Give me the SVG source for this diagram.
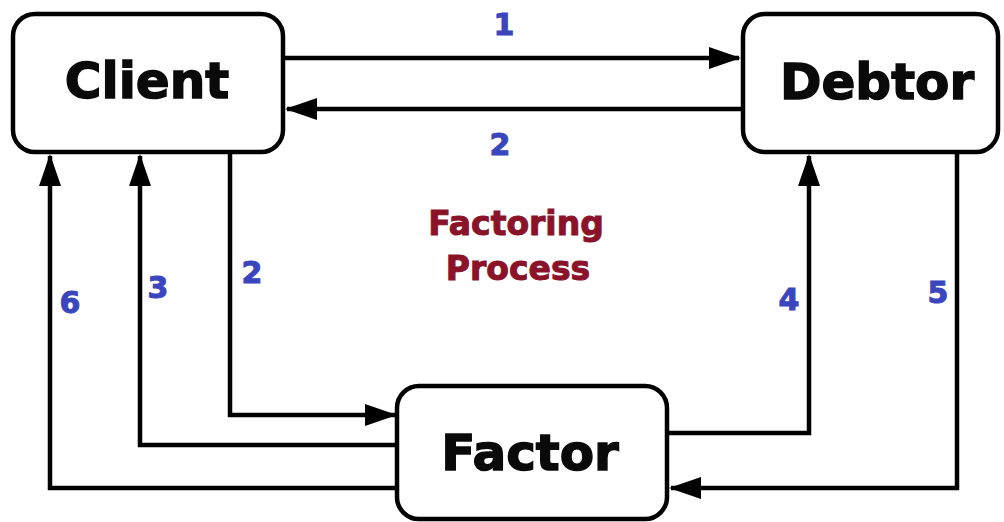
<svg xmlns="http://www.w3.org/2000/svg" width="1004" height="522" viewBox="0 0 1004 522">
<style>
.box{fill:#fff;stroke:#000;stroke-width:4.5}
.name{font-family:"DejaVu Sans","Liberation Sans",sans-serif;font-weight:bold;font-size:50px;fill:#0a0a0a;stroke:#0a0a0a;stroke-width:1.5;text-anchor:middle}
.num{font-family:"DejaVu Sans","Liberation Sans",sans-serif;font-weight:bold;font-size:30px;fill:#3a46bd;stroke:#3a46bd;stroke-width:1;text-anchor:middle}
.title{font-family:"DejaVu Sans","Liberation Sans",sans-serif;font-weight:bold;font-size:33px;fill:#8a1329;stroke:#8a1329;stroke-width:1;text-anchor:middle}
.conn{fill:none;stroke:#000;stroke-width:4.5;marker-end:url(#arrow)}
</style>
<defs>
<marker id="arrow" markerUnits="userSpaceOnUse" markerWidth="34" markerHeight="24" refX="30" refY="11" orient="auto">
<path d="M0,0 L32,11 L0,22 Z" fill="#000"/>
</marker>
</defs>
<rect width="1004" height="522" fill="#fff"/>
<g id="connectors">
<path class="conn" d="M283,58 H739"/>
<path class="conn" d="M743,109 H287"/>
<path class="conn" d="M230,152 V415 H395"/>
<path class="conn" d="M397,445 H140 V156"/>
<path class="conn" d="M397,488 H50 V156"/>
<path class="conn" d="M667,433 H809 V156"/>
<path class="conn" d="M957,152 V488 H671"/>
</g>
<g id="client">
<rect class="box" x="13" y="14" width="270" height="138" rx="22"/>
<text class="name" x="147" y="98">Client</text>
</g>
<g id="debtor">
<rect class="box" x="743" y="14" width="255" height="138" rx="22"/>
<text class="name" x="877" y="99">Debtor</text>
</g>
<g id="factor">
<rect class="box" x="397" y="386" width="270" height="133" rx="22"/>
<text class="name" x="530" y="470">Factor</text>
</g>
<g id="labels">
<text class="num" x="504" y="35">1</text>
<text class="num" x="500" y="155">2</text>
<text class="num" x="252" y="283">2</text>
<text class="num" x="158" y="298">3</text>
<text class="num" x="70" y="313">6</text>
<text class="num" x="789" y="310">4</text>
<text class="num" x="938" y="303">5</text>
<text class="title" x="516" y="235">Factoring</text>
<text class="title" x="518" y="280">Process</text>
</g>
</svg>
